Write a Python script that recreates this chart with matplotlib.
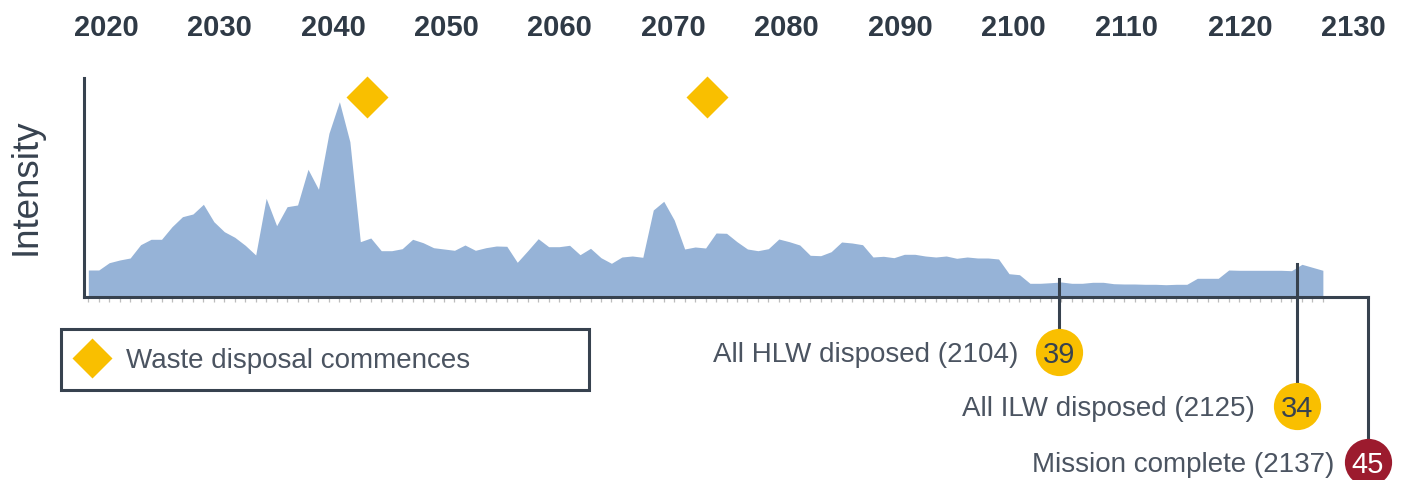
import numpy as np
import matplotlib
matplotlib.use("Agg")
import matplotlib.pyplot as plt
from matplotlib.patches import Rectangle
from matplotlib.lines import Line2D

plt.rcParams['font.family'] = ['Liberation Sans', 'DejaVu Sans']

DARK = '#37424f'
TEXT = '#4b5461'
BLUE = '#96b3d7'
YELLOW = '#f9bf00'
RED = '#9c1b2e'

# intensity profile (arbitrary units), evenly spaced steps
intensity = [
    27.0, 27.0, 34.3, 37.0, 39.0, 52.3, 57.7, 57.7, 70.3, 80.3,
    83.0, 92.7, 75.3, 65.3, 59.7, 51.7, 42.0, 98.7, 71.3, 90.3,
    92.0, 127.7, 107.7, 163.7, 195.3, 155.3, 55.3, 59.0, 46.3, 46.3,
    48.3, 57.7, 54.3, 49.3, 48.0, 46.7, 52.0, 46.7, 49.3, 51.0,
    50.7, 34.7, 46.3, 58.3, 50.3, 50.3, 51.7, 42.3, 48.7, 39.3,
    33.7, 40.0, 41.0, 39.7, 87.0, 95.7, 77.0, 48.0, 50.0, 49.0,
    64.0, 63.7, 55.3, 48.0, 46.3, 48.3, 58.0, 55.3, 52.0, 41.7,
    41.3, 45.3, 55.0, 54.0, 52.3, 40.0, 40.7, 39.3, 42.7, 42.7,
    41.0, 40.0, 41.0, 38.7, 40.0, 39.0, 39.0, 38.0, 23.3, 22.3,
    13.7, 13.7, 14.3, 15.0, 13.7, 13.7, 14.7, 14.7, 13.3, 13.0,
    13.0, 12.7, 12.7, 12.3, 12.7, 12.7, 18.7, 18.7, 18.7, 27.0,
    26.7, 26.7, 26.7, 26.7, 26.7, 26.3, 32.7, 29.7, 26.7,
]
first_year, last_year = 2018.4, 2127.3
tick_years = list(range(2020, 2131, 10))

disposal_starts = [2043, 2073]
disposal_label = "Waste disposal commences"

milestone_labels = ["All HLW disposed (2104)", "All ILW disposed (2125)", "Mission complete (2137)"]
milestone_years = [2104, 2125, None]   # last one sits at the end of the axis
milestone_counts = ["39", "34", "45"]
milestone_colors = [YELLOW, YELLOW, RED]
milestone_numcolors = [DARK, DARK, 'white']
milestone_levels = [-55, -109, -165]
label_offsets = [-29, -30, -24]

W, H = 1405, 480
fig = plt.figure(figsize=(W / 100, H / 100), dpi=100)
ax = fig.add_axes([84 / W, 1 - 297 / H, (1368 - 84) / W, (297 - 78) / H])

years = np.linspace(first_year, last_year, len(intensity))
ax.fill_between(years, intensity, 0, color=BLUE, lw=0, zorder=1)

x0, x1 = 2018.02, 2131.28
ax.set_xlim(x0, x1)
ax.set_ylim(0, 219)

for s in ['top', 'right']:
    ax.spines[s].set_visible(False)
for s in ['left', 'bottom']:
    ax.spines[s].set_color(DARK)
    ax.spines[s].set_linewidth(2.2)
    ax.spines[s].set_zorder(3)

ax.set_yticks([])
ax.xaxis.tick_top()
ax.set_xticks(tick_years)
ax.set_xticklabels([str(y) for y in tick_years])
ax.tick_params(axis='x', which='major', length=0, pad=26, labelsize=21,
               labelcolor='#2f3a46')
for lab in ax.get_xticklabels():
    lab.set_fontweight('bold')
ax.set_xticks(years, minor=True)
ax.tick_params(axis='x', which='minor', top=False, bottom=True, length=3.5,
               width=0.9, color='#bdbdbd', direction='out')

ax.set_ylabel("Intensity", fontsize=26.5, color=DARK, va='center')
ax.yaxis.set_label_coords(-0.0452, 0.502)

# waste disposal markers
ax.plot(disposal_starts, [200] * len(disposal_starts), 'D', ms=21,
        color=YELLOW, mec='none', clip_on=False, zorder=4)

# milestones
for label, yr, num, col, ncol, lvl, off in zip(milestone_labels, milestone_years,
                                               milestone_counts, milestone_colors,
                                               milestone_numcolors, milestone_levels,
                                               label_offsets):
    if yr is None:
        x = x1
        top = 0
    else:
        x = yr
        top = np.interp(yr, years, intensity) + 3
    ax.plot([x, x], [top, lvl], color=DARK, lw=2.2, clip_on=False, zorder=3)
    ax.plot(x, lvl, 'o', ms=34, color=col, mec='none', clip_on=False, zorder=4)
    ax.text(x, lvl, num, ha='center', va='center_baseline', fontsize=21,
            color=ncol, zorder=5, clip_on=False)
    ax.annotate(label, xy=(x, lvl), xytext=(off, 0), textcoords='offset points',
                ha='right', va='center_baseline', fontsize=20, color=TEXT,
                annotation_clip=False)

# legend box
fig.add_artist(Rectangle((61 / W, 1 - 390 / H), 528 / W, 61 / H,
                         transform=fig.transFigure, fill=False, ec=DARK, lw=2.2))
fig.add_artist(Line2D([92 / W], [1 - 358 / H], marker='D', ms=20, color=YELLOW,
                      mec='none', transform=fig.transFigure))
fig.text(126 / W, 1 - 358 / H, disposal_label, fontsize=20, color=TEXT,
         va='center_baseline')

fig.savefig('out.png', dpi=100)
